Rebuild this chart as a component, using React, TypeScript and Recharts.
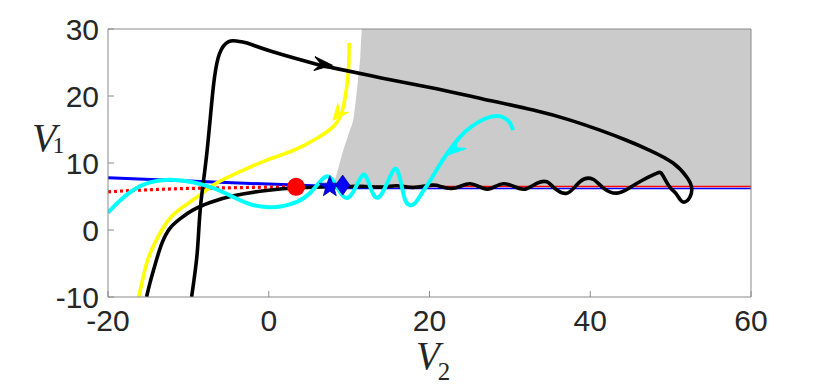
import { ComposedChart, XAxis, YAxis, Line, Area, Scatter } from "recharts";

// axes
const xTicks = [-20, 0, 20, 40, 60];
const yTicks = [-10, 0, 10, 20, 30];

// grey region: right of the boundary, above the lower edge
const grayV2 = [8.0, 8.6, 9.3, 10.1, 10.5, 11.1, 11.4, 11.6, 60];
const grayTop = [6.5, 9.0, 12.0, 14.9, 16.4, 22.4, 26.0, 30.0, 30.0];
const grayBottom = 6.5;

// black trajectory (with arrow)
const trajV2 = [
  -9.6, -8.9, -8.5, -7.7, -6.9, -6.1, -5.0, -4.0, -2.7, 0.5, 6.4, 8.0, 14.0, 20.4,
  26.5, 32.9, 37.5, 41.2, 44.5, 47.4, 50.3, 52.0, 52.6, 52.4, 51.5, 50.7, 49.9, 49.0,
  48.3, 46.6, 44.9, 43.3, 41.6, 40.3, 38.7, 37.1, 35.4, 34.6, 33.4, 31.9, 30.5, 29.2,
  28.2, 27.2, 26.1, 25.0, 23.8, 22.7, 21.5, 20.3, 18.0, 16.0, 14.0, 12.0, 10.2, 9.2,
];
const trajV1 = [
  -10, -3.4, 3.4, 11.5, 21.3, 26.4, 28.1, 28.2, 27.9, 26.6, 24.6, 24.2, 22.7, 21.2,
  19.6, 17.9, 16.4, 14.9, 13.4, 11.9, 10.0, 7.9, 6.4, 4.9, 4.2, 5.4, 6.4, 8.2,
  8.5, 7.5, 6.3, 5.5, 6.3, 7.6, 7.2, 5.5, 6.4, 7.2, 7.0, 6.1, 6.5, 6.9,
  6.5, 6.1, 6.5, 6.9, 6.5, 6.2, 6.45, 6.7, 6.35, 6.6, 6.4, 6.5, 6.5, 6.6,
];

// black nullcline
const nullV2 = [-15.2, -14.8, -14.1, -13.3, -12.3, -11.0, -9.4, -7.3, -4.4, -0.3, 3.9, 8.0, 10.0];
const nullV1 = [-10, -8.0, -5.0, -2.0, 0.25, 1.7, 3.0, 4.1, 5.1, 5.9, 6.3, 6.45, 6.5];

// yellow trajectory
const yellowV2 = [10.0, 9.95, 9.7, 9.3, 8.9, 8.0, 6.0, 3.1, -0.3, -3.6, -6.5, -8.6, -10.6, -12.1, -13.3, -14.4, -15.2, -15.8, -16.2];
const yellowV1 = [27.9, 24.5, 21.3, 18.5, 16.9, 15.4, 13.7, 11.9, 10.4, 8.7, 7.0, 5.2, 3.5, 2.0, 0.0, -2.5, -5.0, -8.0, -10];

// cyan trajectory
const cyanV2 = [
  30.4, 30.0, 29.2, 28.2, 26.9, 25.3, 23.8, 22.3, 21.2, 20.2, 19.0, 18.2, 17.6, 17.0,
  16.5, 16.0, 15.5, 14.8, 14.0, 13.3, 12.7, 12.1, 11.6, 11.0, 10.3, 9.6, 8.9, 8.1,
  7.4, 6.6, 5.2, 3.5, 1.5, 0.0, -2.2, -4.4, -6.8, -9.3, -12.2, -14.8, -16.8, -18.5, -20,
];
const cyanV1 = [
  14.9, 16.0, 16.8, 17.0, 16.6, 15.5, 13.9, 11.6, 9.6, 7.6, 5.4, 4.0, 3.7, 4.4,
  6.8, 8.9, 8.9, 7.2, 5.3, 4.9, 6.2, 8.0, 8.1, 6.8, 5.3, 4.8, 5.6, 7.2,
  8.0, 7.5, 5.6, 4.2, 3.5, 3.4, 3.8, 4.9, 6.2, 7.1, 7.5, 7.1, 6.0, 4.4, 2.6,
];

// blue and red branches
const blueLeftV2 = [-20, -10, 0, 3.4, 7.6];
const blueLeftV1 = [7.8, 7.3, 6.85, 6.7, 6.5];
const blueRightV2 = [7.6, 60];
const blueRightV1 = [6.2, 6.2];
const redRightV2 = [8.0, 60];
const redRightV1 = [6.5, 6.5];
const redDotV2 = [-20, -15, -10, -5, 0, 3.4];
const redDotV1 = [5.7, 6.0, 6.2, 6.3, 6.4, 6.45];

// equilibria
const circlePt = [{ x: 3.4, y: 6.45 }];
const starPt = [{ x: 7.6, y: 6.45 }];
const diamondPt = [{ x: 9.2, y: 6.7 }];

// arrow heads: tip and direction (data units)
const blackArrow = [{ x: 7.9, y: 24.6, dx: 2.1, dy: -0.22 }];
const yellowArrow = [{ x: 8.0, y: 16.4, dx: -1.24, dy: -1.8 }];
const cyanArrow = [{ x: 22.3, y: 11.2, dx: -1.74, dy: -1.79 }];

const W = 814;
const H = 383;
const PLOT_W = 643;
const PLOT_H = 268;
const SX = PLOT_W / 80;
const SY = PLOT_H / 40;
const AX = "#8a8a8a";
const TXT = "#262626";

const pts = (xs: number[], ys: number[]) => xs.map((x, i) => ({ x, y: ys[i] }));
const grayData = grayV2.map((x, i) => ({ x, range: [grayBottom, grayTop[i]] }));

const arrowShape = (color: string, len: number, half: number) => (props: any) => {
  const { cx, cy, payload } = props;
  if (cx == null || cy == null) return <g />;
  const ang = (Math.atan2(-payload.dy * SY, payload.dx * SX) * 180) / Math.PI;
  const d = `M0,0 L${-len},${-half} L${-len * 0.62},0 L${-len},${half} Z`;
  return <path d={d} fill={color} stroke={color} strokeWidth={1} transform={`translate(${cx},${cy}) rotate(${ang})`} />;
};

const circleShape = (props: any) => <circle cx={props.cx} cy={props.cy} r={9} fill="#ff0000" />;

const starShape = (props: any) => {
  const { cx, cy } = props;
  const p: string[] = [];
  for (let i = 0; i < 10; i++) {
    const r = i % 2 === 0 ? 11 : 4.5;
    const a = -Math.PI / 2 + (i * Math.PI) / 5;
    p.push(`${cx + r * Math.cos(a)},${cy + r * Math.sin(a)}`);
  }
  return <polygon points={p.join(" ")} fill="#0000ff" stroke="#00008b" strokeWidth={0.8} />;
};

const diamondShape = (props: any) => {
  const { cx, cy } = props;
  return (
    <polygon
      points={`${cx},${cy - 10} ${cx + 7},${cy} ${cx},${cy + 10} ${cx - 7},${cy}`}
      fill="#0000ff"
      stroke="#00008b"
      strokeWidth={0.8}
    />
  );
};

const tickStyle = { fontSize: 30, fill: TXT, fontFamily: "Liberation Sans, Arial, sans-serif" };
const serif = "Liberation Serif, Times New Roman, serif";

export default function App() {
  return (
    <div style={{ position: "relative", width: W, height: H }}>
      <ComposedChart width={W} height={H} data={grayData} margin={{ top: 0, right: 0, bottom: 0, left: 0 }}>
        <XAxis
          xAxisId="b"
          type="number"
          dataKey="x"
          domain={[-20, 60]}
          ticks={xTicks}
          interval={0}
          allowDataOverflow
          height={94}
          tickSize={-6}
          tickMargin={19}
          tick={tickStyle}
          axisLine={{ stroke: AX }}
          tickLine={{ stroke: AX }}
        />
        <XAxis
          xAxisId="t"
          orientation="top"
          type="number"
          dataKey="x"
          domain={[-20, 60]}
          ticks={xTicks}
          interval={0}
          allowDataOverflow
          height={21}
          tickSize={-6}
          tick={false}
          axisLine={{ stroke: AX }}
          tickLine={{ stroke: AX }}
        />
        <YAxis
          yAxisId="l"
          type="number"
          domain={[-10, 30]}
          ticks={yTicks}
          interval={0}
          allowDataOverflow
          width={100}
          tickSize={-6}
          tickMargin={15}
          tick={tickStyle}
          axisLine={{ stroke: AX }}
          tickLine={{ stroke: AX }}
        />
        <YAxis
          yAxisId="r"
          orientation="right"
          type="number"
          domain={[-10, 30]}
          ticks={yTicks}
          interval={0}
          allowDataOverflow
          width={71}
          tickSize={-6}
          tick={false}
          axisLine={{ stroke: AX }}
          tickLine={{ stroke: AX }}
        />

        <Area xAxisId="b" yAxisId="l" dataKey="range" type="monotone" fill="#cbcbcb" fillOpacity={1} stroke="none" isAnimationActive={false} />

        <Line xAxisId="b" yAxisId="l" data={pts(redRightV2, redRightV1)} dataKey="y" type="linear" stroke="#ff0000" strokeWidth={1.5} dot={false} isAnimationActive={false} />
        <Line xAxisId="b" yAxisId="l" data={pts(blueRightV2, blueRightV1)} dataKey="y" type="linear" stroke="#0000ff" strokeWidth={1.5} dot={false} isAnimationActive={false} />
        <Line xAxisId="b" yAxisId="l" data={pts(blueLeftV2, blueLeftV1)} dataKey="y" type="monotone" stroke="#0000ff" strokeWidth={3} dot={false} isAnimationActive={false} />
        <Line xAxisId="b" yAxisId="l" data={pts(redDotV2, redDotV1)} dataKey="y" type="monotone" stroke="#ff0000" strokeWidth={3.2} strokeDasharray="3 3" dot={false} isAnimationActive={false} />
        <Line xAxisId="b" yAxisId="l" data={pts(nullV2, nullV1)} dataKey="y" type="natural" stroke="#000000" strokeWidth={3.6} dot={false} isAnimationActive={false} />
        <Line xAxisId="b" yAxisId="l" data={pts(yellowV2, yellowV1)} dataKey="y" type="natural" stroke="#ffff00" strokeWidth={3.6} dot={false} isAnimationActive={false} />
        <Line xAxisId="b" yAxisId="l" data={pts(trajV2, trajV1)} dataKey="y" type="natural" stroke="#000000" strokeWidth={3.6} dot={false} isAnimationActive={false} />
        <Line xAxisId="b" yAxisId="l" data={pts(cyanV2, cyanV1)} dataKey="y" type="natural" stroke="#00ffff" strokeWidth={4} dot={false} isAnimationActive={false} />

        <Scatter xAxisId="b" yAxisId="l" data={blackArrow} dataKey="y" shape={arrowShape("#000000", 18, 7)} isAnimationActive={false} />
        <Scatter xAxisId="b" yAxisId="l" data={yellowArrow} dataKey="y" shape={arrowShape("#ffff00", 16, 7)} isAnimationActive={false} />
        <Scatter xAxisId="b" yAxisId="l" data={cyanArrow} dataKey="y" shape={arrowShape("#00ffff", 18, 7)} isAnimationActive={false} />

        <Scatter xAxisId="b" yAxisId="l" data={circlePt} dataKey="y" shape={circleShape} isAnimationActive={false} />
        <Scatter xAxisId="b" yAxisId="l" data={starPt} dataKey="y" shape={starShape} isAnimationActive={false} />
        <Scatter xAxisId="b" yAxisId="l" data={diamondPt} dataKey="y" shape={diamondShape} isAnimationActive={false} />
      </ComposedChart>

      <svg width={W} height={H} style={{ position: "absolute", left: 0, top: 0, pointerEvents: "none" }}>
        <text x={24} y={143} fontFamily={serif} fill={TXT}>
          <tspan fontStyle="italic" fontSize={40}>V</tspan>
          <tspan fontSize={24} dx={-4} dy={2}>1</tspan>
        </text>
        <text x={408} y={361} fontFamily={serif} fill={TXT}>
          <tspan fontStyle="italic" fontSize={39}>V</tspan>
          <tspan fontSize={25} dx={-2} dy={11}>2</tspan>
        </text>
      </svg>
    </div>
  );
}
